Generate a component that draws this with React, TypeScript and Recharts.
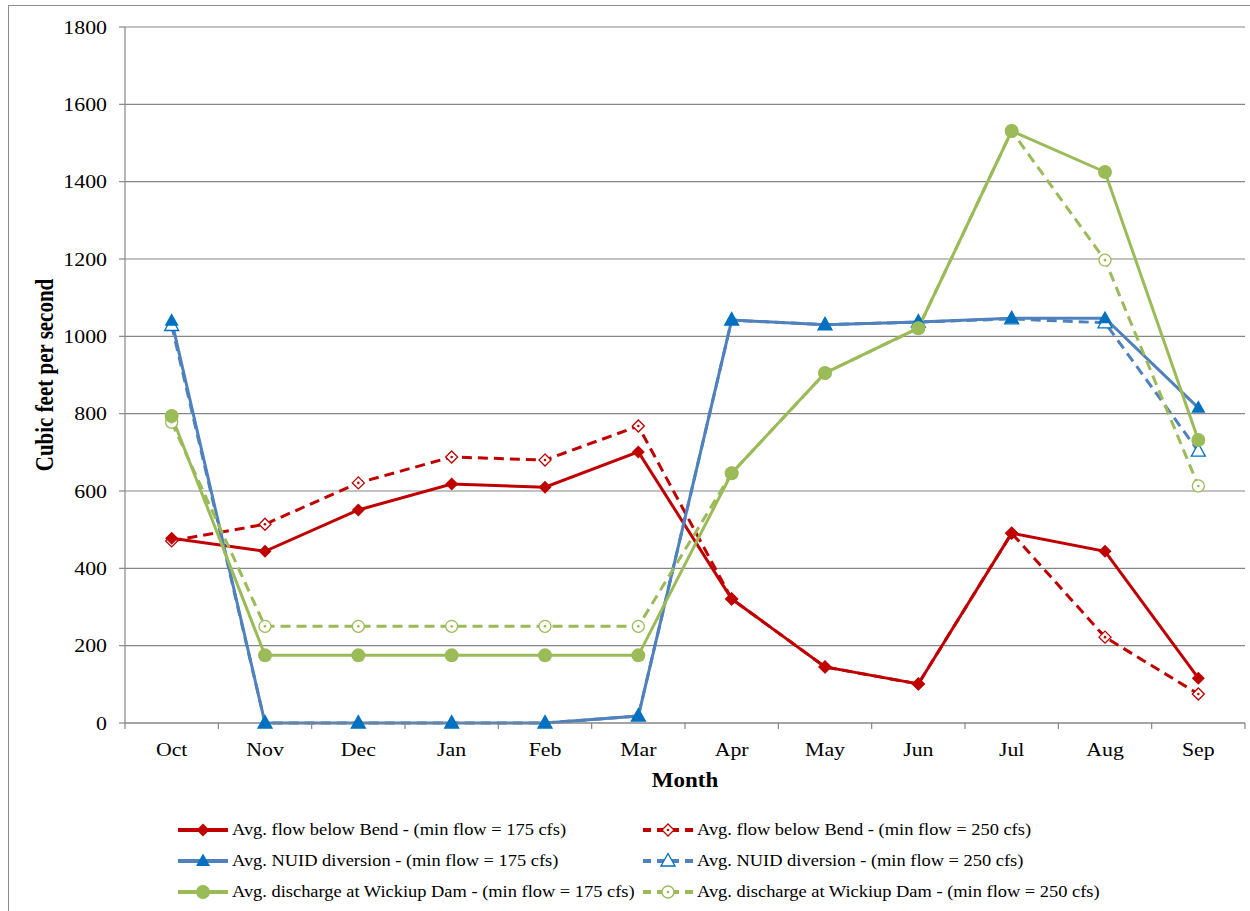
import React from 'react';
import { LineChart, Line, XAxis, YAxis, CartesianGrid } from 'recharts';

const months = ['Oct', 'Nov', 'Dec', 'Jan', 'Feb', 'Mar', 'Apr', 'May', 'Jun', 'Jul', 'Aug', 'Sep'];
const bend175 = [478, 444, 551, 618, 610, 701, 321, 145, 101, 491, 444, 116];
const bend250 = [471, 514, 621, 688, 680, 768, 321, 145, 101, 491, 222, 75];
const nuid175 = [1040, 0, 0, 0, 0, 18, 1042, 1030, 1037, 1047, 1047, 815];
const nuid250 = [1028, 0, 0, 0, 0, 18, 1042, 1030, 1037, 1045, 1035, 703];
const wick175 = [794, 175, 175, 175, 175, 175, 646, 905, 1021, 1531, 1425, 732];
const wick250 = [778, 250, 250, 250, 250, 250, 646, 905, 1021, 1531, 1197, 613];
const yTicks = [0, 200, 400, 600, 800, 1000, 1200, 1400, 1600, 1800];
const xTicks = [0, 1, 2, 3, 4, 5, 6, 7, 8, 9, 10, 11, 12];

const legendLabels = [
  'Avg. flow below Bend - (min flow = 175 cfs)',
  'Avg. flow below Bend - (min flow = 250 cfs)',
  'Avg. NUID diversion - (min flow = 175 cfs)',
  'Avg. NUID diversion - (min flow = 250 cfs)',
  'Avg. discharge at Wickiup Dam - (min flow = 175 cfs)',
  'Avg. discharge at Wickiup Dam - (min flow = 250 cfs)',
];

const data = months.map((m, i) => ({
  month: m,
  pos: i + 0.5,
  bend175: bend175[i],
  bend250: bend250[i],
  nuid175: nuid175[i],
  nuid250: nuid250[i],
  wick175: wick175[i],
  wick250: wick250[i],
}));

const RED = '#C00000';
const BLUE = '#4F81BD';
const BLUE_M = '#0070C0';
const GREEN = '#9BBB59';
const GRID = '#868686';
const FONT = '"Liberation Serif", "Times New Roman", serif';
const SX = 1.15;

const W = 1250;
const H = 911;
const Y_W = 125;
const M_R = 5;
const M_T = 27;
const X_H = 188;
const HALF_STEP = (W - Y_W - M_R) / months.length / 2;

type Shape = 'diamond' | 'triangle' | 'circle';

function Marker({ cx, cy, shape, color, hollow }: { cx: number; cy: number; shape: Shape; color: string; hollow: boolean }) {
  const fill = hollow ? '#fff' : color;
  const sw = hollow ? 1.3 : 0;
  if (shape === 'diamond') {
    const r = hollow ? 6 : 6.5;
    return (
      <g>
        <path d={`M${cx},${cy - r}L${cx + r},${cy}L${cx},${cy + r}L${cx - r},${cy}Z`} fill={fill} stroke={color} strokeWidth={sw} />
        {hollow && <circle cx={cx} cy={cy} r={1.3} fill={color} />}
      </g>
    );
  }
  if (shape === 'triangle') {
    return (
      <path
        d={`M${cx},${cy - 7.5}L${cx + 7},${cy + 5}L${cx - 7},${cy + 5}Z`}
        fill={fill}
        stroke={color}
        strokeWidth={sw}
      />
    );
  }
  return (
    <g>
      <circle cx={cx} cy={cy} r={hollow ? 6 : 7} fill={fill} stroke={color} strokeWidth={sw} />
      {hollow && <circle cx={cx} cy={cy} r={1.3} fill={color} />}
    </g>
  );
}

const makeDot = (shape: Shape, color: string, hollow: boolean) => (props: any) => {
  const { cx, cy, index } = props;
  if (cx == null || cy == null) return <g key={index} />;
  return <Marker key={index} cx={cx} cy={cy} shape={shape} color={color} hollow={hollow} />;
};

const YTick = (props: any) => {
  const { x, y, payload } = props;
  return (
    <g transform={`translate(${x},${y}) scale(${SX},1)`}>
      <text x={0} y={0} dy={6.5} textAnchor="end" fontFamily={FONT} fontSize={19} fill="#000">
        {payload.value}
      </text>
    </g>
  );
};

const XTick = (props: any) => {
  const { x, y, payload } = props;
  const v = payload.value;
  if (v >= months.length) return <g />;
  return (
    <g transform={`translate(${x + HALF_STEP},${y + 27}) scale(${SX},1)`}>
      <text x={0} y={0} textAnchor="middle" fontFamily={FONT} fontSize={19} fill="#000">
        {months[v]}
      </text>
    </g>
  );
};

const XTitle = (props: any) => {
  const vb = props.viewBox;
  return (
    <g transform={`translate(${vb.x + vb.width / 2},${vb.y + 64}) scale(${SX},1)`}>
      <text x={0} y={0} textAnchor="middle" fontFamily={FONT} fontSize={20} fontWeight="bold" fill="#000">
        Month
      </text>
    </g>
  );
};

const YTitle = (props: any) => {
  const vb = props.viewBox;
  const cx = vb.x + 45;
  const cy = vb.y + vb.height / 2;
  return (
    <g transform={`translate(${cx},${cy}) scale(${SX},1) rotate(-90)`}>
      <text x={0} y={0} textAnchor="middle" dominantBaseline="central" fontFamily={FONT} fontSize={21} fontWeight="bold" fill="#000">
        Cubic feet per second
      </text>
    </g>
  );
};

const legendDefs: { color: string; lineColor: string; shape: Shape; hollow: boolean }[] = [
  { color: RED, lineColor: RED, shape: 'diamond', hollow: false },
  { color: RED, lineColor: RED, shape: 'diamond', hollow: true },
  { color: BLUE_M, lineColor: BLUE, shape: 'triangle', hollow: false },
  { color: BLUE_M, lineColor: BLUE, shape: 'triangle', hollow: true },
  { color: GREEN, lineColor: GREEN, shape: 'circle', hollow: false },
  { color: GREEN, lineColor: GREEN, shape: 'circle', hollow: true },
];

function LegendItem({ i, left, top }: { i: number; left: number; top: number }) {
  const d = legendDefs[i];
  return (
    <div style={{ position: 'absolute', left, top, height: 20, whiteSpace: 'nowrap' }}>
      <svg width={52} height={20} style={{ position: 'absolute', left: 0, top: 0, overflow: 'visible' }}>
        <line
          x1={0}
          y1={10}
          x2={50}
          y2={10}
          stroke={d.lineColor}
          strokeWidth={4}
          strokeDasharray={d.hollow ? '8 6' : undefined}
        />
        <Marker cx={25} cy={10} shape={d.shape} color={d.color} hollow={d.hollow} />
      </svg>
      <div
        style={{
          position: 'absolute',
          left: 54,
          top: 0,
          fontFamily: FONT,
          fontSize: 16,
          lineHeight: '20px',
          color: '#000',
          transform: `scaleX(${SX})`,
          transformOrigin: 'left center',
        }}
      >
        {legendLabels[i]}
      </div>
    </div>
  );
}

export default function App() {
  return (
    <div style={{ position: 'absolute', left: 0, top: 0, width: W, height: H, overflow: 'hidden', background: '#fff' }}>
      <div
        style={{
          position: 'absolute',
          left: 8,
          top: 5,
          width: 1400,
          height: 1200,
          border: '1px solid #8c8c8c',
          boxSizing: 'border-box',
        }}
      />
      <div style={{ position: 'absolute', left: 0, top: 0 }}>
        <LineChart width={W} height={H} data={data} margin={{ top: M_T, right: M_R, left: 0, bottom: 0 }}>
          <CartesianGrid vertical={false} stroke={GRID} strokeWidth={1.2} />
          <XAxis
            dataKey="pos"
            type="number"
            domain={[0, months.length]}
            ticks={xTicks}
            interval={0}
            height={X_H}
            stroke={GRID}
            strokeWidth={1.2}
            tickSize={6}
            tickMargin={0}
            tick={<XTick />}
            label={<XTitle />}
          />
          <YAxis
            domain={[0, 1800]}
            ticks={yTicks}
            interval={0}
            width={Y_W}
            stroke={GRID}
            strokeWidth={1.2}
            tickSize={6}
            tickMargin={12}
            tick={<YTick />}
            label={<YTitle />}
          />
          <Line dataKey="bend250" stroke={RED} strokeWidth={3} strokeDasharray="10 6" dot={makeDot('diamond', RED, true)} isAnimationActive={false} />
          <Line dataKey="bend175" stroke={RED} strokeWidth={3} dot={makeDot('diamond', RED, false)} isAnimationActive={false} />
          <Line dataKey="nuid250" stroke={BLUE} strokeWidth={3} strokeDasharray="10 6" dot={makeDot('triangle', BLUE_M, true)} isAnimationActive={false} />
          <Line dataKey="nuid175" stroke={BLUE} strokeWidth={3} dot={makeDot('triangle', BLUE_M, false)} isAnimationActive={false} />
          <Line dataKey="wick250" stroke={GREEN} strokeWidth={3} strokeDasharray="10 6" dot={makeDot('circle', GREEN, true)} isAnimationActive={false} />
          <Line dataKey="wick175" stroke={GREEN} strokeWidth={3} dot={makeDot('circle', GREEN, false)} isAnimationActive={false} />
        </LineChart>
      </div>
      <LegendItem i={0} left={178} top={820} />
      <LegendItem i={1} left={643} top={820} />
      <LegendItem i={2} left={178} top={851} />
      <LegendItem i={3} left={643} top={851} />
      <LegendItem i={4} left={178} top={882} />
      <LegendItem i={5} left={643} top={882} />
    </div>
  );
}
